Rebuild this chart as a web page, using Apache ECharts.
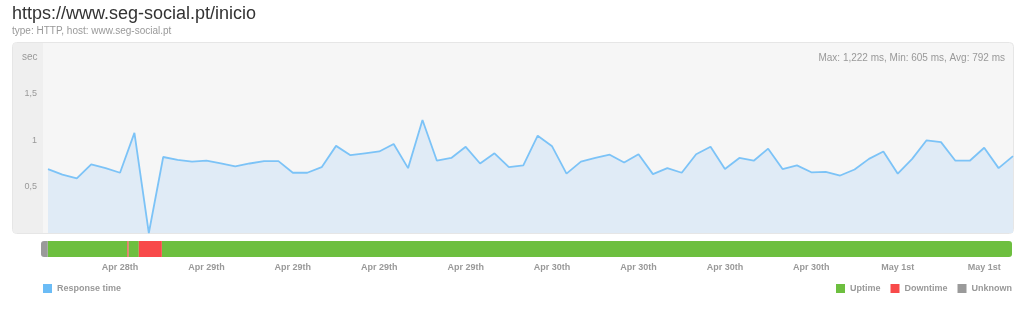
<!DOCTYPE html>
<html>
<head>
<meta charset="utf-8">
<script src="https://cdn.jsdelivr.net/npm/echarts@6/dist/echarts.min.js"></script>
<style>
html,body{margin:0;padding:0;background:#fff;}
#chart{width:1024px;height:315px;}
</style>
</head>
<body>
<div id="chart"></div>
<script>
// Response time (seconds), one point per hour
const responseTime = [
  0.69, 0.63, 0.59, 0.74, 0.70, 0.65, 1.08, 0.00, 0.82, 0.79,
  0.77, 0.78, 0.75, 0.72, 0.75, 0.775, 0.775, 0.65, 0.65, 0.71,
  0.94, 0.84, 0.86, 0.88, 0.96, 0.70, 1.22, 0.78, 0.81, 0.93,
  0.75, 0.86, 0.71, 0.73, 1.05, 0.935, 0.64, 0.77, 0.81, 0.845,
  0.76, 0.85, 0.635, 0.70, 0.65, 0.85, 0.93, 0.69, 0.81, 0.78,
  0.91, 0.69, 0.73, 0.655, 0.66, 0.62, 0.685, 0.80, 0.88, 0.64,
  0.80, 1.00, 0.98, 0.78, 0.78, 0.92, 0.70, 0.83
];
// x-axis tick labels and the point index each one sits on
const tickIndex = [5, 11, 17, 23, 29, 35, 41, 47, 53, 59, 65];
const tickLabels = ['Apr 28th','Apr 29th','Apr 29th','Apr 29th','Apr 29th','Apr 30th','Apr 30th','Apr 30th','Apr 30th','May 1st','May 1st'];
// status bar segments (in point-index units)
const statusStart = [-0.5, -0.03, 5.5, 5.58, 6.3, 7.9];
const statusEnd   = [-0.03, 5.5, 5.58, 6.3, 7.9, 67];
const statusState = ['Unknown','Uptime','Downtime','Uptime','Downtime','Uptime'];
const stateNames = ['Uptime','Downtime','Unknown'];
const stateColors = {Uptime:'#6dbf3f', Downtime:'#f84a4a', Unknown:'#9a9a9a'};
const yTicks = [0.5, 1, 1.5];

const categories = responseTime.map((_, i) => String(i));
const X_MIN = statusStart[0], X_MAX = statusEnd[statusEnd.length - 1];
const font = '"Liberation Sans", Arial, Helvetica, sans-serif';

function statusSeries(name) {
  const data = [];
  statusState.forEach((s, i) => { if (s === name) data.push([statusStart[i], statusEnd[i]]); });
  return {
    name, type: 'custom', xAxisIndex: 1, yAxisIndex: 1,
    itemStyle: {color: stateColors[name]},
    encode: {x: [0, 1]},
    renderItem: function (params, api) {
      const s = api.value(0), e = api.value(1);
      const p0 = api.coord([s, 1]), p1 = api.coord([e, 0]);
      const r = [s <= X_MIN ? 3 : 0, e >= X_MAX ? 3 : 0, e >= X_MAX ? 3 : 0, s <= X_MIN ? 3 : 0];
      return {
        type: 'rect',
        shape: {x: p0[0], y: p0[1], width: Math.max(p1[0] - p0[0], 1), height: p1[1] - p0[1], r},
        style: {fill: stateColors[name]}
      };
    },
    data
  };
}

const chart = echarts.init(document.getElementById('chart'), null, {renderer: 'canvas'});
chart.setOption({
  animation: false,
  textStyle: {fontFamily: font},
  title: [
    {
      text: 'https://www.seg-social.pt/inicio',
      subtext: 'type: HTTP, host: www.seg-social.pt',
      left: 7, top: 0, itemGap: 3,
      textStyle: {fontSize: 18, fontWeight: 'normal', color: '#333', fontFamily: font},
      subtextStyle: {fontSize: 10, color: '#999', fontFamily: font}
    },
    {
      text: 'Max: 1,222 ms, Min: 605 ms, Avg: 792 ms',
      right: 14, top: 48,
      textStyle: {fontSize: 10, fontWeight: 'normal', color: '#999', fontFamily: font}
    }
  ],
  graphic: {
    elements: [
      {type: 'rect', z: -10, silent: true, shape: {x: 12.5, y: 42.5, width: 1001, height: 191, r: 4},
       style: {fill: '#f6f6f6', stroke: '#e6e6e6', lineWidth: 1}},
      {type: 'rect', z: -9, silent: true, shape: {x: 13, y: 43, width: 30, height: 190, r: [3, 0, 0, 3]},
       style: {fill: '#efefef'}},
      {type: 'text', z: 5, silent: true, left: 22, top: 52,
       style: {text: 'sec', fill: '#999', font: '10px ' + font}}
    ]
  },
  legend: [
    {
      data: ['Response time'], left: 43, top: 284, padding: 0,
      icon: 'rect', itemWidth: 9, itemHeight: 9, itemGap: 10,
      textStyle: {fontSize: 9, fontWeight: 'bold', color: '#999', fontFamily: font}
    },
    {
      data: stateNames, right: 12, top: 284, padding: 0,
      icon: 'rect', itemWidth: 9, itemHeight: 9, itemGap: 10,
      textStyle: {fontSize: 9, fontWeight: 'bold', color: '#999', fontFamily: font}
    }
  ],
  grid: [
    {left: 48, right: 11, top: 43, bottom: 82},
    {left: 41, right: 12, top: 241, height: 16}
  ],
  xAxis: [
    {
      type: 'category', gridIndex: 0, data: categories, boundaryGap: false,
      axisLine: {show: false}, axisTick: {show: false}, splitLine: {show: false},
      axisLabel: {
        margin: 30, fontSize: 9, fontWeight: 'bold', color: '#999', fontFamily: font,
        interval: (i) => tickIndex.indexOf(i) >= 0,
        formatter: (v, i) => { const k = tickIndex.indexOf(Number(v)); return k >= 0 ? tickLabels[k] : ''; }
      }
    },
    {
      type: 'value', gridIndex: 1, min: X_MIN, max: X_MAX, show: false
    }
  ],
  yAxis: [
    {
      type: 'value', gridIndex: 0, min: 0, max: 2.05, interval: 0.5,
      axisLine: {show: false}, axisTick: {show: false}, splitLine: {show: false},
      axisLabel: {
        margin: 11, fontSize: 9, color: '#999', fontFamily: font,
        formatter: (v) => yTicks.indexOf(v) >= 0 ? String(v).replace('.', ',') : ''
      }
    },
    {type: 'value', gridIndex: 1, min: 0, max: 1, show: false}
  ],
  series: [
    {
      name: 'Response time', type: 'line', xAxisIndex: 0, yAxisIndex: 0,
      data: responseTime, symbol: 'none', z: 3,
      lineStyle: {color: '#7cc3f7', width: 1.8},
      itemStyle: {color: '#6bbcf6'},
      areaStyle: {color: '#e0ebf6', opacity: 1}
    },
    statusSeries('Uptime'),
    statusSeries('Downtime'),
    statusSeries('Unknown')
  ]
});
</script>
</body>
</html>
